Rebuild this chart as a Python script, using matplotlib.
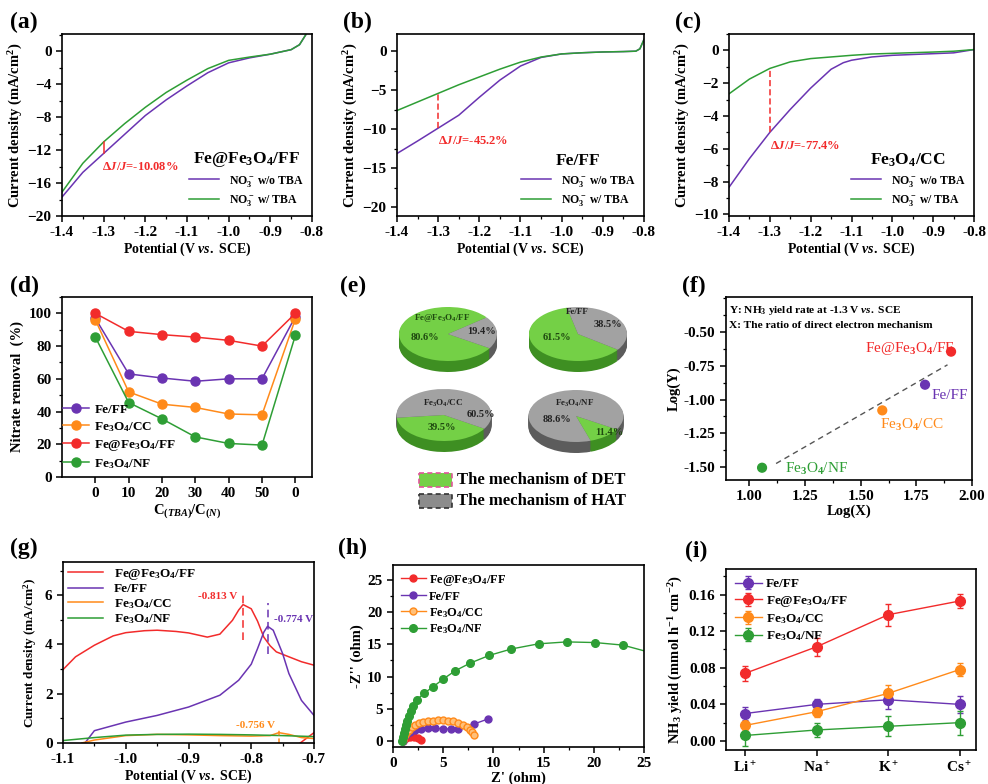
import matplotlib
matplotlib.use("Agg")
import matplotlib.pyplot as plt
import numpy as np
from matplotlib.patches import Wedge, Rectangle
from matplotlib.transforms import Affine2D
from matplotlib.ticker import AutoMinorLocator, FormatStrFormatter


# ============================================================================
# Data
# ============================================================================

# (a) Fe@Fe3O4/FF, LSV with / without TBA
A_POT = [-1.4, -1.35, -1.3, -1.25, -1.2, -1.15, -1.1, -1.05, -1.0, -0.95, -0.9, -0.85, -0.83, -0.815]
A_WO_TBA = [-17.7, -14.7, -12.4, -10.1, -7.8, -5.9, -4.2, -2.6, -1.4, -0.8, -0.35, 0.2, 0.8, 2.0]
A_W_TBA = [-17.1, -13.6, -11.0, -8.8, -6.8, -5.0, -3.5, -2.1, -1.1, -0.7, -0.35, 0.2, 0.8, 2.0]

# (b) Fe/FF
B_POT = [-1.4, -1.35, -1.3, -1.25, -1.2, -1.15, -1.1, -1.05, -1.0, -0.95, -0.9, -0.85, -0.82, -0.81, -0.80]
B_WO_TBA = [-13.1, -11.5, -9.85, -8.2, -5.9, -3.7, -1.9, -0.8, -0.35, -0.2, -0.1, -0.05, 0.0, 0.3, 1.5]
B_W_TBA = [-7.6, -6.5, -5.4, -4.3, -3.3, -2.3, -1.4, -0.75, -0.35, -0.2, -0.1, -0.05, 0.0, 0.3, 1.5]

# (c) Fe3O4/CC
C_POT = [-1.4, -1.35, -1.3, -1.25, -1.2, -1.15, -1.12, -1.1, -1.05, -1.0, -0.9, -0.85, -0.8]
C_WO_TBA = [-8.35, -6.6, -5.0, -3.6, -2.3, -1.15, -0.75, -0.6, -0.4, -0.3, -0.2, -0.15, 0.05]
C_W_TBA = [-2.65, -1.75, -1.1, -0.7, -0.5, -0.4, -0.34, -0.3, -0.22, -0.18, -0.1, -0.05, 0.05]

# (d) nitrate removal vs C(TBA)/C(N)
D_TICKS = ["0", "10", "20", "30", "40", "50", "0"]
D_FE_FF = [97, 63, 60.5, 58.5, 60, 60, 98]
D_FE3O4_CC = [96, 52, 44.5, 42.5, 38.5, 38, 96.5]
D_FE_FE3O4_FF = [100, 89, 87, 85.5, 83.5, 80, 100]
D_FE3O4_NF = [85.5, 45.5, 35.5, 24.5, 20.5, 19.5, 86.5]

# (e) share of DET mechanism (%)
E_NAMES = ["Fe@Fe$_3$O$_4$/FF", "Fe/FF", "Fe$_3$O$_4$/CC", "Fe$_3$O$_4$/NF"]
E_DET = [80.6, 61.5, 39.5, 11.4]

# (f) Log(Y) vs Log(X)
F_NAMES = ["Fe@Fe$_3$O$_4$/FF", "Fe/FF", "Fe$_3$O$_4$/CC", "Fe$_3$O$_4$/NF"]
F_LOGX = [1.906, 1.789, 1.597, 1.057]
F_LOGY = [-0.645, -0.89, -1.08, -1.505]

# (g) CV curves
G_POT_RED = [-1.1, -1.08, -1.05, -1.02, -1.0, -0.97, -0.95, -0.92, -0.9, -0.87, -0.85, -0.83,
             -0.82, -0.813, -0.80, -0.79, -0.78, -0.77, -0.76, -0.74, -0.72, -0.70]
G_RED = [2.98, 3.5, 3.97, 4.35, 4.48, 4.56, 4.58, 4.53, 4.47, 4.3, 4.42, 4.98,
         5.4, 5.62, 5.45, 4.95, 4.3, 3.95, 3.7, 3.5, 3.3, 3.16]
G_POT_RED_TAIL = [-0.722, -0.70]
G_RED_TAIL = [0.0, 0.42]
G_POT_PUR = [-1.065, -1.05, -1.0, -0.95, -0.9, -0.85, -0.82, -0.80, -0.79, -0.78, -0.774,
             -0.765, -0.75, -0.74, -0.72, -0.70]
G_PUR = [0.0, 0.5, 0.85, 1.12, 1.46, 1.94, 2.55, 3.2, 3.83, 4.5, 4.74, 4.58, 3.63, 2.82, 1.73, 1.12]
G_POT_ORA = [-1.07, -1.05, -1.0, -0.95, -0.9, -0.85, -0.8, -0.77, -0.756, -0.74, -0.72, -0.70]
G_ORA = [0.0, 0.12, 0.3, 0.35, 0.33, 0.3, 0.28, 0.3, 0.42, 0.35, 0.22, 0.18]
G_POT_GRN = [-1.1, -1.05, -1.0, -0.95, -0.9, -0.85, -0.8, -0.75, -0.7]
G_GRN = [0.1, 0.22, 0.32, 0.35, 0.36, 0.35, 0.33, 0.3, 0.26]
G_PEAKS = [-0.813, -0.774, -0.756]

# (h) Nyquist plots
H_RED_X = [1.0, 1.3, 1.7, 2.1, 2.5, 2.8]
H_RED_Y = [0.0, 0.4, 0.6, 0.6, 0.4, 0.05]
H_PUR_X = [1.0, 1.3, 1.7, 2.2, 2.8, 3.5, 4.2, 5.0, 5.8, 6.5, 8.1, 9.5]
H_PUR_Y = [0.0, 0.8, 1.3, 1.6, 1.8, 1.9, 1.9, 1.85, 1.8, 1.8, 2.6, 3.4]
H_ORA_X = [1.0, 1.2, 1.4, 1.6, 1.9, 2.2, 2.6, 3.0, 3.5, 4.0, 4.5, 5.0, 5.5, 6.0, 6.5, 7.0,
           7.4, 7.7, 7.9, 8.1]
H_ORA_Y = [0.1, 0.8, 1.3, 1.7, 2.1, 2.4, 2.7, 2.9, 3.0, 3.1, 3.15, 3.15, 3.1, 3.0, 2.8, 2.5,
           2.1, 1.7, 1.3, 0.8]
H_GRN_X = [0.9, 1.0, 1.1, 1.2, 1.3, 1.4, 1.6, 1.8, 2.0, 2.4, 3.1, 4.0, 5.0, 6.2, 7.7, 9.6,
           11.8, 14.5, 17.3, 20.1, 22.9, 25.5]
H_GRN_Y = [0.0, 0.5, 1.2, 1.8, 2.5, 3.0, 3.8, 4.6, 5.4, 6.4, 7.4, 8.4, 9.6, 10.9, 12.1, 13.3,
           14.3, 15.1, 15.4, 15.3, 14.9, 13.8]

# (i) NH3 yield with different cations
I_CATIONS = ["Li$^+$", "Na$^+$", "K$^+$", "Cs$^+$"]
I_FE_FF = [0.030, 0.040, 0.045, 0.040]
I_FE_FF_ERR = [0.007, 0.006, 0.010, 0.009]
I_FE_FE3O4_FF = [0.074, 0.103, 0.138, 0.153]
I_FE_FE3O4_FF_ERR = [0.008, 0.010, 0.012, 0.008]
I_FE3O4_CC = [0.017, 0.032, 0.052, 0.078]
I_FE3O4_CC_ERR = [0.005, 0.006, 0.009, 0.007]
I_FE3O4_NF = [0.006, 0.012, 0.016, 0.020]
I_FE3O4_NF_ERR = [0.011, 0.008, 0.011, 0.013]


# ============================================================================
# Style
# ============================================================================

RED = "#F22B2B"
PURPLE = "#6A34B2"
ORANGE = "#FF8A1A"
GREEN = "#2E9E35"

plt.rcParams.update({
    "font.family": ["Liberation Serif", "DejaVu Serif"],
    "font.weight": "bold",
    "axes.labelweight": "bold",
    "mathtext.fontset": "custom",
    "mathtext.rm": "Liberation Serif:bold",
    "mathtext.it": "Liberation Serif:italic:bold",
    "mathtext.bf": "Liberation Serif:bold",
    "axes.linewidth": 1.2,
    "xtick.major.width": 1.1,
    "ytick.major.width": 1.1,
    "xtick.minor.width": 0.9,
    "ytick.minor.width": 0.9,
    "xtick.major.size": 4,
    "ytick.major.size": 4,
    "xtick.minor.size": 2.5,
    "ytick.minor.size": 2.5,
    "xtick.labelsize": 11,
    "ytick.labelsize": 11,
    "axes.labelsize": 10.5,
})

W, H = 988, 784


def px_axes(fig, left, top, right, bottom):
    """Axes placed with pixel edges of the reference picture."""
    return fig.add_axes([left / W, 1 - bottom / H, (right - left) / W, (bottom - top) / H])


def minor(ax):
    ax.xaxis.set_minor_locator(AutoMinorLocator(2))
    ax.yaxis.set_minor_locator(AutoMinorLocator(2))


def lsv_panel(ax, pot, wo, w, ylim, yticks, dj_text, name, dashed):
    ax.plot(pot, wo, color=PURPLE, lw=1.1, label="NO$_3^-$ w/o TBA")
    ax.plot(pot, w, color=GREEN, lw=1.1, label="NO$_3^-$ w/ TBA")
    i = pot.index(-1.3)
    ax.plot([-1.3, -1.3], [wo[i], w[i]], color=RED, lw=1.1, ls=(0, (4, 2)) if dashed else "-")
    ax.text(-1.3 + (0.0 if dashed else -0.005), wo[i] - 0.04 * (ylim[1] - ylim[0]), dj_text,
            color=RED, fontsize=9, ha="left", va="top")
    ax.set_xlim(-1.4, -0.8)
    ax.set_ylim(*ylim)
    ax.set_yticks(yticks)
    ax.set_xticks([-1.4, -1.3, -1.2, -1.1, -1.0, -0.9, -0.8])
    ax.xaxis.set_major_formatter(FormatStrFormatter("%.1f"))
    minor(ax)
    ax.set_xlabel("Potential (V $vs.$ SCE)", labelpad=1, fontsize=10)
    ax.set_ylabel("Current density (mA/cm$^2$)", labelpad=2)
    leg = ax.legend(loc="lower right", frameon=False, fontsize=8.5, title=name,
                    title_fontsize=12.5, handlelength=2.6, borderaxespad=0.3,
                    labelspacing=0.35)
    leg.get_title().set_fontweight("bold")


# ============================================================================
# Figure
# ============================================================================

fig = plt.figure(figsize=(W / 100, H / 100), dpi=100)

# ---------------------------------------------------------------- (a) (b) (c)
ax = px_axes(fig, 62, 34, 312, 216)
lsv_panel(ax, A_POT, A_WO_TBA, A_W_TBA, (-20, 2.1), [-20, -16, -12, -8, -4, 0],
          "Δ$J$/$J$=-10.08%", "Fe@Fe$_3$O$_4$/FF", False)

ax = px_axes(fig, 397, 34, 644, 216)
lsv_panel(ax, B_POT, B_WO_TBA, B_W_TBA, (-21.1, 2.2), [-20, -15, -10, -5, 0],
          "Δ$J$/$J$=-45.2%", "Fe/FF", True)

ax = px_axes(fig, 729, 34, 974, 216)
lsv_panel(ax, C_POT, C_WO_TBA, C_W_TBA, (-10.1, 1.0), [-10, -8, -6, -4, -2, 0],
          "Δ$J$/$J$=-77.4%", "Fe$_3$O$_4$/CC", True)

# ---------------------------------------------------------------- (d)
ax = px_axes(fig, 62, 297, 312, 477)
xd = np.arange(len(D_TICKS))
for vals, col, lab in [(D_FE_FF, PURPLE, "Fe/FF"),
                       (D_FE3O4_CC, ORANGE, "Fe$_3$O$_4$/CC"),
                       (D_FE_FE3O4_FF, RED, "Fe@Fe$_3$O$_4$/FF"),
                       (D_FE3O4_NF, GREEN, "Fe$_3$O$_4$/NF")]:
    ax.plot(xd, vals, color=col, lw=1.1, marker="o", ms=6.5, mec=col, label=lab)
ax.set_xlim(-1, 6.5)
ax.set_ylim(0, 110)
ax.set_xticks(xd)
ax.set_xticklabels(D_TICKS)
ax.set_yticks([0, 20, 40, 60, 80, 100])
ax.yaxis.set_minor_locator(AutoMinorLocator(2))
ax.set_xlabel("C$_{(TBA)}$/C$_{(N)}$", labelpad=1)
ax.set_ylabel("Nitrate removal  (%)", labelpad=3)
ax.legend(loc="lower left", bbox_to_anchor=(-0.045, -0.03), frameon=False, fontsize=9.5,
          handlelength=2.0, labelspacing=0.3, handletextpad=0.4)

# ---------------------------------------------------------------- (e)
ax = px_axes(fig, 330, 260, 660, 520)
ax.set_xlim(330, 660)
ax.set_ylim(520, 260)
ax.axis("off")

PIE_CENTERS = [(448, 334), (578, 334), (444, 415), (576, 416)]
PIE_RADII = [(49, 27), (49, 27), (47.5, 26), (47.5, 26)]
PIE_START = [38, 103, 186, 288]
PIE_DEPTH = 11
G_TOP, G_SIDE = "#74D046", "#3E8F22"
K_TOP, K_SIDE = "#A2A2A2", "#5C5C5C"

for (cx, cy), (rx, ry), start, det in zip(PIE_CENTERS, PIE_RADII, PIE_START, E_DET):
    mid = start + 360 * det / 100
    for k in range(PIE_DEPTH, -1, -1):
        tr = Affine2D().scale(rx, -ry).translate(cx, cy + k) + ax.transData
        top = k == 0
        ax.add_patch(Wedge((0, 0), 1, start, mid, transform=tr, lw=0,
                           facecolor=G_TOP if top else G_SIDE))
        ax.add_patch(Wedge((0, 0), 1, mid, start + 360, transform=tr, lw=0,
                           facecolor=K_TOP if top else K_SIDE))

PIE_NAME_POS = [(442, 318), (577, 312), (443, 403), (575, 403)]
PIE_DET_POS = [(425, 338), (557, 338), (442, 428), (609, 433)]
PIE_HAT_POS = [(482, 332), (608, 325), (481, 415), (557, 420)]
for i in range(4):
    ax.text(*PIE_NAME_POS[i], E_NAMES[i], fontsize=6.5, ha="center", va="center",
            color="#1F4A10" if i == 0 else "#222222")
    ax.text(*PIE_DET_POS[i], f"{E_DET[i]:.1f}%", fontsize=7.5, ha="center", va="center",
            color="#1F4A10")
    ax.text(*PIE_HAT_POS[i], f"{100 - E_DET[i]:.1f}%", fontsize=7.5, ha="center",
            va="center", color="#222222")

ax.add_patch(Rectangle((419, 473), 33, 14, facecolor=G_TOP, edgecolor="#E0559A",
                       lw=1.2, ls=(0, (3, 2))))
ax.add_patch(Rectangle((419, 494), 33, 14, facecolor="#8C8C8C", edgecolor="#333333",
                       lw=1.2, ls=(0, (3, 2))))
ax.text(457, 480, "The mechanism of DET", fontsize=12, va="center", ha="left")
ax.text(457, 501, "The mechanism of HAT", fontsize=12, va="center", ha="left")

# ---------------------------------------------------------------- (f)
ax = px_axes(fig, 726, 297, 972, 480)
f_cols = [RED, PURPLE, ORANGE, GREEN]
ax.scatter(F_LOGX, F_LOGY, c=f_cols, s=40, zorder=3)
slope, icpt = np.polyfit(F_LOGX, F_LOGY, 1)
xfit = np.array([1.12, 1.89])
ax.plot(xfit, slope * xfit + icpt, color="#555555", lw=1.0, ls=(0, (4, 3)))
F_LABEL_POS = [(1.72, -0.625), (1.90, -0.97), (1.73, -1.19), (1.30, -1.515)]
for (tx, ty), name, col in zip(F_LABEL_POS, F_NAMES, f_cols):
    ax.text(tx, ty, name, color=col, fontsize=11, ha="center", va="center", fontweight="normal")
ax.text(0.91, -0.34, "Y: NH$_3$ yield rate at -1.3 V $vs.$ SCE", fontsize=8.2, va="center")
ax.text(0.91, -0.45, "X: The ratio of direct electron mechanism", fontsize=8.2, va="center")
ax.set_xlim(0.895, 2.0)
ax.set_ylim(-1.596, -0.24)
ax.set_xticks([1.0, 1.25, 1.5, 1.75, 2.0])
ax.set_yticks([-1.5, -1.25, -1.0, -0.75, -0.5])
ax.xaxis.set_major_formatter(FormatStrFormatter("%.2f"))
ax.yaxis.set_major_formatter(FormatStrFormatter("%.2f"))
minor(ax)
ax.set_xlabel("Log(X)", labelpad=1)
ax.set_ylabel("Log(Y)", labelpad=2)

# ---------------------------------------------------------------- (g)
ax = px_axes(fig, 63, 562, 314, 743)
ax.plot(G_POT_RED, G_RED, color=RED, lw=1.1, label="Fe@Fe$_3$O$_4$/FF")
ax.plot(G_POT_RED_TAIL, G_RED_TAIL, color=RED, lw=1.1)
ax.plot(G_POT_PUR, G_PUR, color=PURPLE, lw=1.1, label="Fe/FF")
ax.plot(G_POT_ORA, G_ORA, color=ORANGE, lw=1.1, label="Fe$_3$O$_4$/CC")
ax.plot(G_POT_GRN, G_GRN, color=GREEN, lw=1.1, label="Fe$_3$O$_4$/NF")
ax.plot([G_PEAKS[0]] * 2, [4.2, 6.0], color=RED, lw=1.1, ls=(0, (5, 3)))
ax.plot([G_PEAKS[1]] * 2, [3.6, 5.7], color=PURPLE, lw=1.1, ls=(0, (5, 3)))
ax.plot([G_PEAKS[2]] * 2, [0.0, 0.55], color=ORANGE, lw=1.1, ls=(0, (3, 2)))
ax.text(G_PEAKS[0] - 0.01, 5.95, f"{G_PEAKS[0]:.3f} V", color=RED, fontsize=8, ha="right", va="center")
ax.text(G_PEAKS[1] + 0.01, 5.0, f"{G_PEAKS[1]:.3f} V", color=PURPLE, fontsize=8, ha="left", va="center")
ax.text(G_PEAKS[2] - 0.006, 0.72, f"{G_PEAKS[2]:.3f} V", color=ORANGE, fontsize=8, ha="right", va="center")
ax.set_xlim(-1.1, -0.7)
ax.set_ylim(0, 7.35)
ax.set_xticks([-1.1, -1.0, -0.9, -0.8, -0.7])
ax.set_yticks([0, 2, 4, 6])
ax.xaxis.set_major_formatter(FormatStrFormatter("%.1f"))
minor(ax)
ax.set_xlabel("Potential (V $vs.$ SCE)", labelpad=1, fontsize=10)
ax.set_ylabel("Current density (mA/cm$^2$)", labelpad=4, fontsize=9.5)
ax.legend(loc="upper left", frameon=False, fontsize=9.5, handlelength=2.7,
          labelspacing=0.12, borderaxespad=0.15, borderpad=0.2)

# ---------------------------------------------------------------- (h)
ax = px_axes(fig, 393, 565, 644, 747)
ax.plot(H_RED_X, H_RED_Y, color=RED, lw=1.0, marker="o", ms=5, label="Fe@Fe$_3$O$_4$/FF")
ax.plot(H_PUR_X, H_PUR_Y, color=PURPLE, lw=1.0, marker="o", ms=5, label="Fe/FF")
ax.plot(H_ORA_X, H_ORA_Y, color=ORANGE, lw=1.0, marker="o", ms=5, mfc="#FFC07A",
        label="Fe$_3$O$_4$/CC")
ax.plot(H_GRN_X, H_GRN_Y, color=GREEN, lw=1.0, marker="o", ms=5.5, label="Fe$_3$O$_4$/NF")
ax.set_xlim(0, 25)
ax.set_ylim(-1.0, 27.4)
ax.set_xticks([0, 5, 10, 15, 20, 25])
ax.set_yticks([0, 5, 10, 15, 20, 25])
minor(ax)
ax.set_xlabel("Z' (ohm)", labelpad=1)
ax.set_ylabel("-Z'' (ohm)", labelpad=2)
ax.legend(loc="upper left", frameon=False, fontsize=9, handlelength=2.0,
          labelspacing=0.25, borderaxespad=0.2, handletextpad=0.3)

# ---------------------------------------------------------------- (i)
ax = px_axes(fig, 726, 569, 976, 750)
xi = np.arange(len(I_CATIONS))
for vals, err, col, lab in [(I_FE_FF, I_FE_FF_ERR, PURPLE, "Fe/FF"),
                            (I_FE_FE3O4_FF, I_FE_FE3O4_FF_ERR, RED, "Fe@Fe$_3$O$_4$/FF"),
                            (I_FE3O4_CC, I_FE3O4_CC_ERR, ORANGE, "Fe$_3$O$_4$/CC"),
                            (I_FE3O4_NF, I_FE3O4_NF_ERR, GREEN, "Fe$_3$O$_4$/NF")]:
    ax.errorbar(xi, vals, yerr=err, color=col, lw=1.0, marker="o", ms=7, capsize=2.5,
                elinewidth=1.0, capthick=1.0, label=lab)
ax.set_xlim(-0.27, 3.23)
ax.set_ylim(-0.0099, 0.188)
ax.set_xticks(xi)
ax.set_xticklabels(I_CATIONS)
ax.set_yticks([0.0, 0.04, 0.08, 0.12, 0.16])
ax.yaxis.set_major_formatter(FormatStrFormatter("%.2f"))
ax.yaxis.set_minor_locator(AutoMinorLocator(2))
ax.set_ylabel("NH$_3$ yield (mmol h$^{-1}$ cm$^{-2}$)", labelpad=3)
ax.legend(loc="upper left", frameon=False, fontsize=9.5, handlelength=2.0,
          labelspacing=0.25, borderaxespad=0.3, handletextpad=0.3)

# ---------------------------------------------------------------- panel letters
LETTERS = ["(a)", "(b)", "(c)", "(d)", "(e)", "(f)", "(g)", "(h)", "(i)"]
LETTER_POS = [(10, 22), (343, 22), (675, 22), (10, 286), (340, 286), (682, 286),
              (10, 548), (338, 548), (685, 551)]
for s, (lx, ly) in zip(LETTERS, LETTER_POS):
    fig.text(lx / W, 1 - ly / H, s, fontsize=17, fontweight="bold", va="center", ha="left")

fig.savefig("out.png", dpi=100)
